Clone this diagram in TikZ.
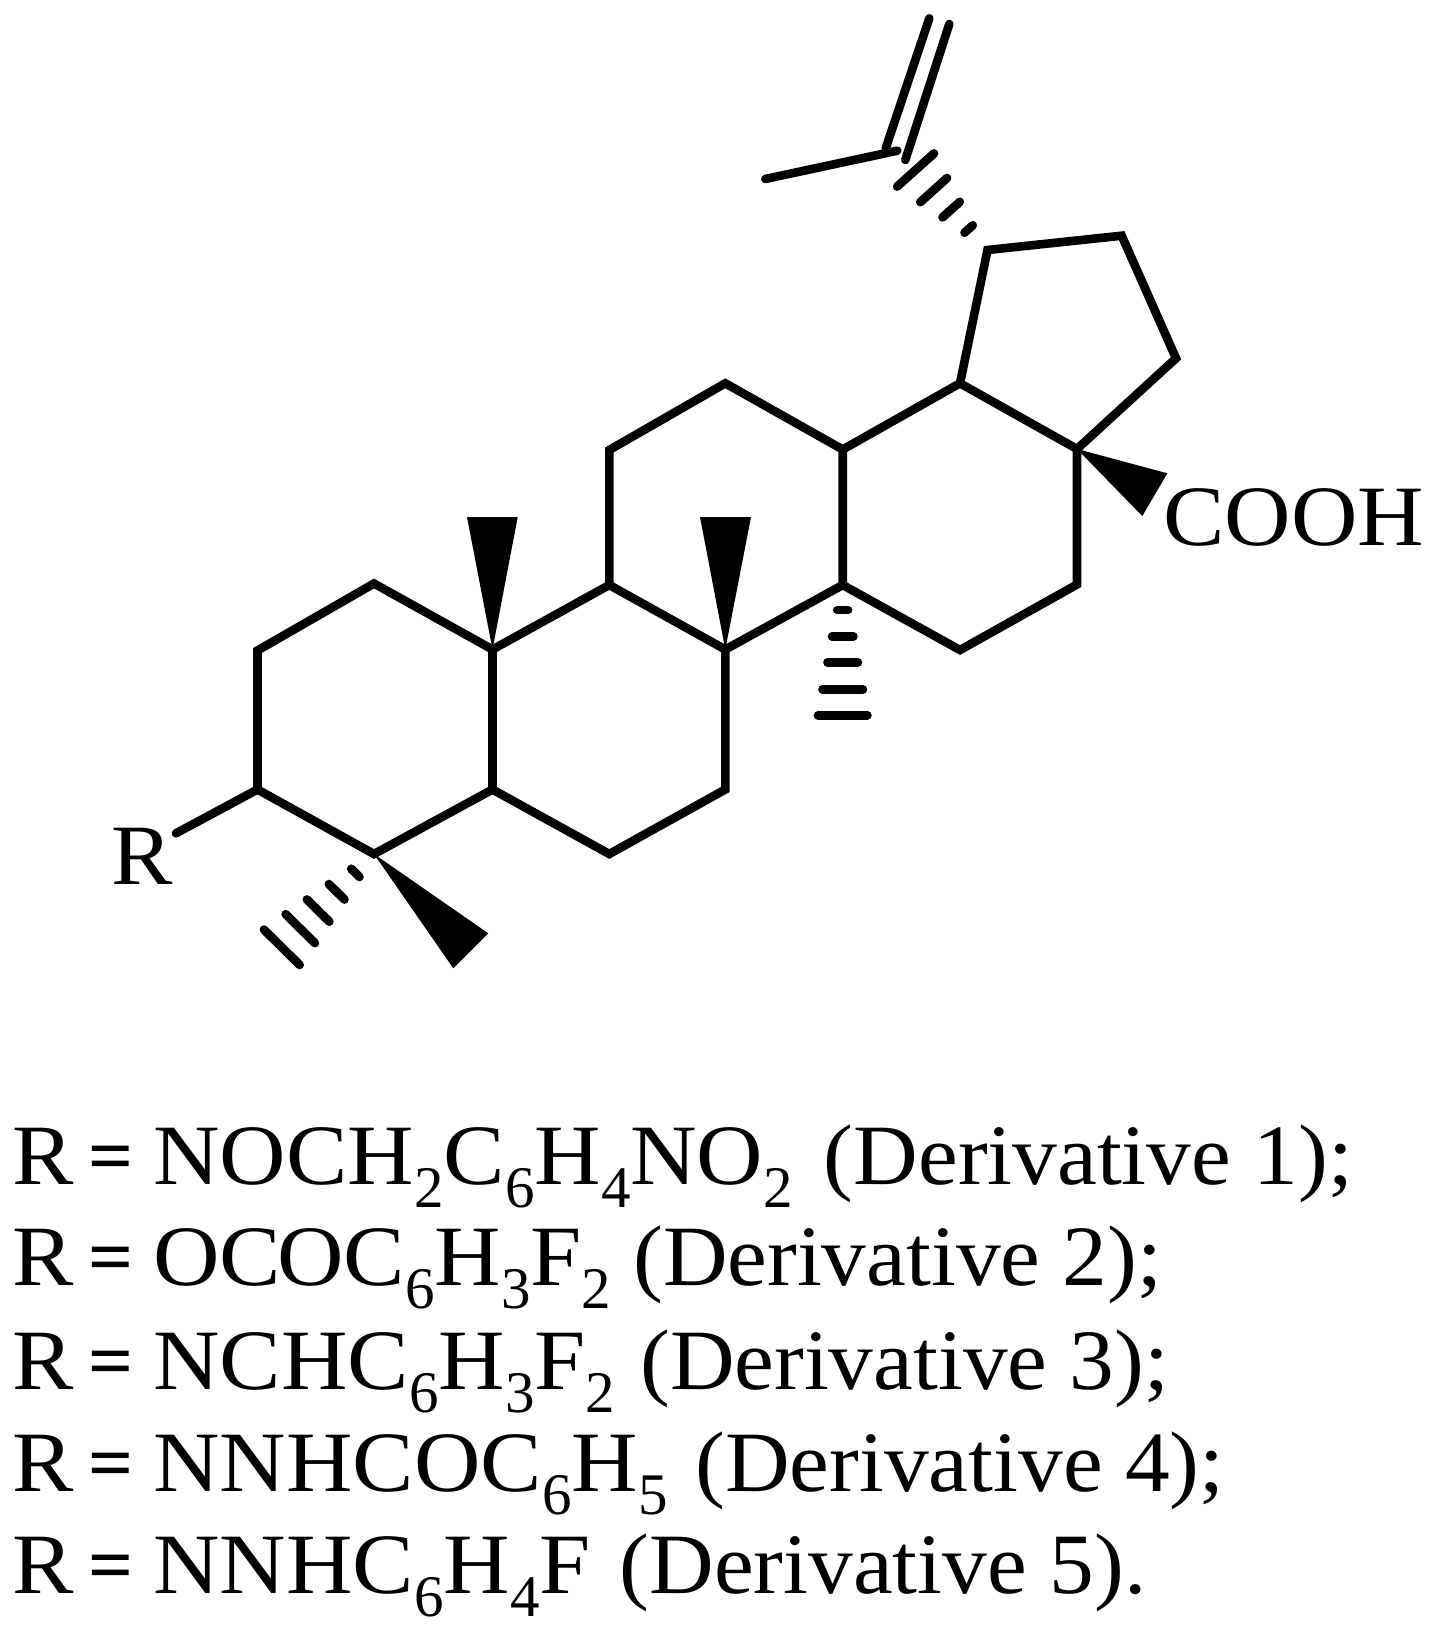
\documentclass[tikz,border=0pt]{standalone}
\usepackage{fontspec}
\setmainfont[FakeStretch=1.04]{Liberation Serif}
\newfontfamily\capsfont[FakeStretch=1.07]{Liberation Serif}
\newfontfamily\subfont{Liberation Serif}
\newfontfamily\eqfont[FakeBold=2]{Liberation Serif}
\usetikzlibrary{calc}
\newcommand{\chemsub}[1]{\raisebox{-23.3pt}{\fontsize{59}{59}\subfont #1}}
\newcommand{\req}{{\capsfont R}\hspace{15.6pt}\makebox[41.5pt][c]{\raisebox{3pt}{\fontsize{76}{76}\eqfont =}}\hspace{22.5pt}}
\newcommand{\rest}[2][26]{\hspace{#1pt}#2}
\newcommand{\hashbond}[3]{% from, to, list of position/half width
  \foreach \t/\f in {#3}{
    \draw[hash] ($(#1)!\t!(#2)!\f pt!90:(#2)$) -- ($(#1)!\t!(#2)!\f pt!-90:(#2)$);
  }}
\tikzset{
  bond/.style={line width=8.6pt,line cap=round,line join=miter,miter limit=4},
  hash/.style={line width=8.7pt,line cap=round},
  wedge/.style={fill=black,draw=none},
  chem/.style={inner sep=0pt,outer sep=0pt,font=\fontsize{86}{86}\selectfont},
  formula/.style={chem,anchor=base west}
}
\begin{document}
\begin{tikzpicture}[x=1pt,y=-1pt]
\useasboundingbox (0,0) rectangle (1440,1632);
% ring atoms
\coordinate (a1) at (257.5,789.5);
\coordinate (a2) at (257.5,650.5);
\coordinate (a3) at (374,583.5);
\coordinate (a4) at (492.5,649.5);
\coordinate (a5) at (492.5,789.5);
\coordinate (a6) at (374,854);
\coordinate (b1) at (609.3,854);
\coordinate (b2) at (725.3,789.5);
\coordinate (b3) at (725.3,649.5);
\coordinate (b4) at (609.3,585);
\coordinate (c1) at (609.3,450);
\coordinate (c2) at (725.3,383.3);
\coordinate (c3) at (842.7,449.5);
\coordinate (c4) at (842.7,585);
\coordinate (d1) at (960,383.3);
\coordinate (d2) at (1077,449);
\coordinate (d3) at (1077,584.5);
\coordinate (d4) at (960,650);
\coordinate (e1) at (987.5,250);
\coordinate (e2) at (1121.7,235.7);
\coordinate (e3) at (1176,358.3);
% isopropenyl
\coordinate (i0) at (897.3,150.7);
\coordinate (i1) at (765.3,179);
\coordinate (i2a) at (885.7,148.3);
\coordinate (i2b) at (929.3,18.3);
\coordinate (i3a) at (905.3,160);
\coordinate (i3b) at (949.3,24);
% free ends
\coordinate (rb) at (176,833.3);
\coordinate (w1a) at (467,517);
\coordinate (w1b) at (517.7,517);
\coordinate (w2a) at (700,517);
\coordinate (w2b) at (751,517);
\coordinate (w3a) at (488.3,933.3);
\coordinate (w3b) at (453.3,968.3);
\coordinate (w4a) at (1167.3,473.3);
\coordinate (w4b) at (1142.3,516);
\coordinate (h1) at (842.7,747.9);
\coordinate (h2) at (258.75,970.6);
\coordinate (h3) at (897.6,150);
% bonds
\draw[bond] (a1) -- (a2) -- (a3) -- (a4) -- (a5) -- (a6) -- cycle;
\draw[bond] (a5) -- (b1) -- (b2) -- (b3) -- (b4) -- (a4);
\draw[bond] (b4) -- (c1) -- (c2) -- (c3) -- (c4) -- (b3);
\draw[bond] (c3) -- (d1) -- (d2) -- (d3) -- (d4) -- (c4);
\draw[bond] (d1) -- (e1) -- (e2) -- (e3) -- (d2);
\draw[bond] (i0) -- (i1);
\draw[bond] (i2a) -- (i2b);
\draw[bond] (i3a) -- (i3b);
% wedges
\fill[wedge] (a4) -- (w1a) -- (w1b) -- cycle;
\fill[wedge] (b3) -- (w2a) -- (w2b) -- cycle;
\fill[wedge] (a6) -- (w3a) -- (w3b) -- cycle;
\fill[wedge] (d2) -- (w4a) -- (w4b) -- cycle;
% hashed bonds
\hashbond{c4}{h1}{0.154/5.4,0.315/10.7,0.474/15.2,0.64/20.2,0.8/24.7}
\hashbond{a6}{h2}{0.162/5.8,0.324/11,0.485/15.8,0.64/20.5,0.8/25.1}
\hashbond{e1}{h3}{0.21/5.5,0.404/11.6,0.599/18,0.8/24.8}
% labels
\node[formula] (R) at (111,884) {{\capsfont R}};
\draw[bond] (a1) -- (rb);
\node[formula] (cooh) at (1163.5,545) {{\capsfont COOH}};
\node[formula] (l1) at (12.5,1184) {\req{\capsfont NOCH\chemsub{2}C\chemsub{6}H\chemsub{4}NO\chemsub{2}}\rest[31]{(Derivative 1);}};
\node[formula] (l2) at (12.5,1285) {\req{\capsfont OC\kern-4pt OC\chemsub{6}H\chemsub{3}F\chemsub{2}}\rest[22]{(Derivative 2);}};
\node[formula] (l3) at (12.5,1389) {\req{\capsfont NCHC\chemsub{6}H\chemsub{3}F\chemsub{2}}\rest[25]{(Derivative 3);}};
\node[formula] (l4) at (12.5,1491) {\req{\capsfont NNHCOC\chemsub{6}H\chemsub{5}}\rest[28]{(Derivative 4);}};
\node[formula] (l5) at (12.5,1593) {\req{\capsfont NNHC\chemsub{6}H\chemsub{4}F}\rest[29]{(Derivative 5).}};
\end{tikzpicture}
\end{document}
